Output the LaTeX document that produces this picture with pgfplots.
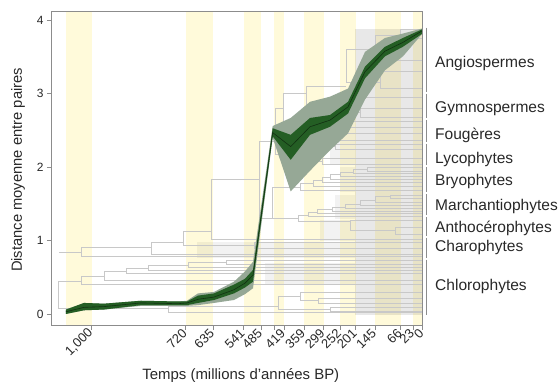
\documentclass[border=0pt]{standalone}
\usepackage{fontspec}
\setmainfont{Liberation Sans}
\usepackage{pgfplots}
\pgfplotsset{compat=1.18}
\usepackage{pgfplotstable}

\definecolor{band}{RGB}{255,250,218}
\definecolor{outerc}{RGB}{150,168,150}
\definecolor{innerc}{RGB}{36,94,36}
\definecolor{linec}{RGB}{18,48,18}
\definecolor{treec}{RGB}{200,200,200}
\definecolor{axc}{RGB}{140,140,140}
\definecolor{txt}{RGB}{40,40,40}

% mean distance (mid) with inner (lo1-hi1) and outer (lo2-hi2) bands
\pgfplotstableread{
x lo2 lo1 mid hi1 hi2
66 0.00 0.00 0.03 0.06 0.06
84 0.05 0.05 0.09 0.15 0.15
104 0.06 0.06 0.10 0.14 0.14
141 0.11 0.12 0.15 0.18 0.18
178 0.11 0.12 0.14 0.17 0.17
187 0.11 0.12 0.15 0.17 0.18
198 0.12 0.15 0.20 0.25 0.28
214 0.15 0.19 0.23 0.28 0.30
234 0.19 0.28 0.33 0.40 0.44
245 0.27 0.36 0.42 0.48 0.58
253 0.35 0.44 0.53 0.60 0.71
272.7 2.40 2.42 2.47 2.53 2.56
290.7 1.67 2.10 2.28 2.44 2.67
310 1.95 2.44 2.55 2.67 2.89
330 2.23 2.55 2.64 2.71 2.96
348 2.46 2.73 2.82 2.89 3.07
365 2.92 3.21 3.30 3.37 3.57
385 3.32 3.51 3.58 3.64 3.76
403 3.51 3.64 3.70 3.76 3.82
422.5 3.82 3.82 3.86 3.88 3.89
}\curve

\pgfplotsset{
  treeline/.style={color=treec, line width=0.5pt, forget plot},
  bandfill/.style={fill=band, draw=none, forget plot},
  dense/.style={fill=black, fill opacity=0.05, draw=none, forget plot},
}
\newcommand{\br}[1]{\addplot[treeline] coordinates {#1};}
\newcommand{\yb}[2]{\addplot[bandfill] coordinates {(#1,-0.16) (#2,-0.16) (#2,4.127) (#1,4.127)} --cycle;}
\newcommand{\dn}[4]{\addplot[dense] coordinates {(#1,#2) (#3,#2) (#3,#4) (#1,#4)} --cycle;}

\begin{document}
\begin{tikzpicture}
\begin{axis}[
  at={(0,0)}, anchor=south west,
  scale only axis, width=371.5bp, height=314.7bp,
  xmin=51, xmax=422.5, ymin=-0.16, ymax=4.127,
  clip=false, axis on top,
  axis line style={axc, line width=0.7pt},
  tick style={axc, line width=0.7pt},
  tick align=outside, major tick length=4bp,
  tick pos=left,
  xtick={91.8,185.7,213,243.6,261,274,284,304,323.6,340,355.7,375,400.7,413,422.5},
  xticklabels={{1,000},720,635,541,485,,419,359,299,252,201,145,66,23,0},
  xticklabel style={rotate=45, anchor=east, font=\fontsize{13}{15}\selectfont, text=txt, inner sep=1.5pt},
  ytick={0,1,2,3,4},
  yticklabel style={font=\fontsize{12}{14}\selectfont, text=txt},
  /pgf/number format/assume math mode=true,
  xlabel={Temps (millions d'années BP)},
  xlabel style={at={(axis description cs:0.511,0)}, anchor=base, yshift=-54bp, font=\fontsize{15}{17}\selectfont, text=txt},
  ylabel={Distance moyenne entre paires},
  ylabel style={at={(axis description cs:-0.0888,0.495)}, anchor=center, font=\fontsize{14.8}{17}\selectfont, text=txt},
]
% yellow period bands
\yb{66}{91.8}
\yb{185.7}{213}
\yb{243.6}{261}
\yb{274}{284}
\yb{304}{323.6}
\yb{340}{355.7}
\yb{375}{400.7}
\yb{413}{422.5}
% dense leaf regions of the tree
\dn{197}{0.76}{355}{0.98}
\dn{265}{0.40}{355}{0.70}
\dn{320}{1.00}{355}{1.28}
\dn{335}{1.30}{355}{1.62}
\dn{340}{1.66}{355}{2.00}
\dn{330}{2.03}{355}{2.64}
\dn{340}{2.66}{355}{3.00}
\addplot[fill=black, fill opacity=0.09, draw=none, forget plot] coordinates {(355,-0.01) (422,-0.01) (422,3.88) (355,3.88)} --cycle;
% tree
\br{(81,0.44) (58,0.44) (58,0.08) (168,0.08)}
\br{(104,0.51) (81,0.51) (81,0.40) (422,0.40)}
\br{(126,0.58) (104,0.58) (104,0.46) (422,0.46)}
\br{(148,0.62) (126,0.62) (126,0.55) (422,0.55)}
\br{(188,0.66) (148,0.66) (148,0.60) (422,0.60)}
\br{(226,0.71) (188,0.71) (188,0.64) (422,0.64)}
\br{(422,0.73) (226,0.73) (226,0.68) (422,0.68)}
\br{(278,0.10) (168,0.10) (168,0.02) (422,0.02)}
\br{(300,0.24) (278,0.24) (278,0.06) (330,0.06)}
\br{(422,0.30) (300,0.30) (300,0.19) (318,0.19)}
\br{(422,0.22) (318,0.22) (318,0.15) (422,0.15)}
\br{(422,0.09) (330,0.09) (330,0.04) (422,0.04)}
\br{(59,0.84) (81,0.84)}
\br{(151,0.91) (81,0.91) (81,0.78) (422,0.78)}
\br{(183,0.97) (151,0.97) (151,0.82) (422,0.82)}
\br{(211,1.12) (183,1.12) (183,0.94) (254,0.94)}
\br{(422,0.98) (254,0.98) (254,0.90) (422,0.90)}
\br{(259,1.83) (211,1.83) (211,1.02) (422,1.02)}
\br{(275,2.35) (259,2.35) (259,1.30) (298,1.30)}
\br{(300,1.73) (272,1.73) (272,1.30)}
\br{(313,1.78) (300,1.78) (300,1.68) (422,1.68)}
\br{(322,1.82) (313,1.82) (313,1.74) (422,1.74)}
\br{(330,1.86) (322,1.86) (322,1.79) (422,1.79)}
\br{(340,1.90) (330,1.90) (330,1.83) (422,1.83)}
\br{(353,1.93) (340,1.93) (340,1.87) (422,1.87)}
\br{(367,1.97) (353,1.97) (353,1.91) (422,1.91)}
\br{(422,2.00) (367,2.00) (367,1.95) (422,1.95)}
\br{(308,1.35) (298,1.35) (298,1.26) (350,1.26)}
\br{(317,1.39) (308,1.39) (308,1.33) (422,1.33)}
\br{(332,1.42) (317,1.42) (317,1.37) (422,1.37)}
\br{(345,1.46) (332,1.46) (332,1.40) (422,1.40)}
\br{(360,1.50) (345,1.50) (345,1.44) (422,1.44)}
\br{(375,1.55) (360,1.55) (360,1.48) (422,1.48)}
\br{(390,1.60) (375,1.60) (375,1.52) (422,1.52)}
\br{(422,1.62) (390,1.62) (390,1.57) (422,1.57)}
\br{(422,1.28) (350,1.28) (350,1.14) (395,1.14)}
\br{(422,1.18) (395,1.18) (395,1.08) (422,1.08)}
\br{(283,2.80) (275,2.80) (275,2.17) (300,2.17)}
\br{(335,2.28) (300,2.28) (300,2.08) (322,2.08)}
\br{(422,2.31) (335,2.31) (335,2.24) (422,2.24)}
\br{(422,2.12) (322,2.12) (322,2.04) (422,2.04)}
\br{(306,3.00) (283,3.00) (283,2.52) (306,2.52)}
\br{(330,2.60) (306,2.60) (306,2.42) (320,2.42)}
\br{(422,2.63) (330,2.63) (330,2.55) (422,2.55)}
\br{(422,2.46) (320,2.46) (320,2.36) (422,2.36)}
\br{(346,3.10) (306,3.10) (306,2.85) (330,2.85)}
\br{(422,2.95) (330,2.95) (330,2.75) (360,2.75)}
\br{(422,2.80) (360,2.80) (360,2.68) (422,2.68)}
\br{(375,3.60) (346,3.60) (346,3.15) (380,3.15)}
\br{(400,3.80) (375,3.80) (375,3.45) (422,3.45)}
\br{(422,3.88) (400,3.88) (400,3.75) (422,3.75)}
\br{(422,3.30) (380,3.30) (380,3.08) (422,3.08)}
% outer band (hi2 forward, lo2 backward)
\addplot[fill=outerc, draw=none, forget plot] coordinates {
(66,0.06) (84,0.15) (104,0.14) (141,0.18) (178,0.17) (187,0.18) (198,0.28) (214,0.30) (234,0.44) (245,0.58) (253,0.71) (272.7,2.56) (290.7,2.67) (310,2.89) (330,2.96) (348,3.07) (365,3.57) (385,3.76) (403,3.82) (422.5,3.89)
(422.5,3.82) (403,3.51) (385,3.32) (365,2.92) (348,2.46) (330,2.23) (310,1.95) (290.7,1.67) (272.7,2.40) (253,0.35) (245,0.27) (234,0.19) (214,0.15) (198,0.12) (187,0.11) (178,0.11) (141,0.11) (104,0.06) (84,0.05) (66,0.00)
} --cycle;
% inner band (hi1 forward, lo1 backward)
\addplot[fill=innerc, draw=none, forget plot] coordinates {
(66,0.06) (84,0.15) (104,0.14) (141,0.18) (178,0.17) (187,0.17) (198,0.25) (214,0.28) (234,0.40) (245,0.48) (253,0.60) (272.7,2.53) (290.7,2.44) (310,2.67) (330,2.71) (348,2.89) (365,3.37) (385,3.64) (403,3.76) (422.5,3.88)
(422.5,3.82) (403,3.64) (385,3.51) (365,3.21) (348,2.73) (330,2.55) (310,2.44) (290.7,2.10) (272.7,2.42) (253,0.44) (245,0.36) (234,0.28) (214,0.19) (198,0.15) (187,0.12) (178,0.12) (141,0.12) (104,0.06) (84,0.05) (66,0.00)
} --cycle;
\addplot[color=linec, line width=0.6pt, forget plot] table[x=x,y=mid]{\curve};
% clade brackets and names
\begin{scope}[axc, line width=0.8pt]
\draw (axis cs:426,3.90) -- (axis cs:426,3.02);
\draw (axis cs:426,3.00) -- (axis cs:426,2.67);
\draw (axis cs:426,2.64) -- (axis cs:426,2.34);
\draw (axis cs:426,2.32) -- (axis cs:426,2.03);
\draw (axis cs:426,2.00) -- (axis cs:426,1.66);
\draw (axis cs:426,1.63) -- (axis cs:426,1.35);
\draw (axis cs:426,1.32) -- (axis cs:426,1.06);
\draw (axis cs:426,1.04) -- (axis cs:426,0.76);
\draw (axis cs:426,0.74) -- (axis cs:426,-0.01);
\end{scope}
\begin{scope}[every node/.style={anchor=west, font=\fontsize{15.6}{18}\selectfont, text=txt, inner sep=0pt}]
\node at (axis cs:435,3.41) {Angiospermes};
\node at (axis cs:435,2.79) {Gymnospermes};
\node at (axis cs:435,2.43) {Fougères};
\node at (axis cs:435,2.11) {Lycophytes};
\node at (axis cs:435,1.81) {Bryophytes};
\node at (axis cs:435,1.46) {Marchantiophytes};
\node at (axis cs:435,1.17) {Anthocérophytes};
\node at (axis cs:435,0.90) {Charophytes};
\node at (axis cs:435,0.37) {Chlorophytes};
\end{scope}
\end{axis}
\pgfresetboundingbox
\path[use as bounding box] (-51bp,-56.3bp) rectangle (509bp,325.7bp);
\end{tikzpicture}
\end{document}
